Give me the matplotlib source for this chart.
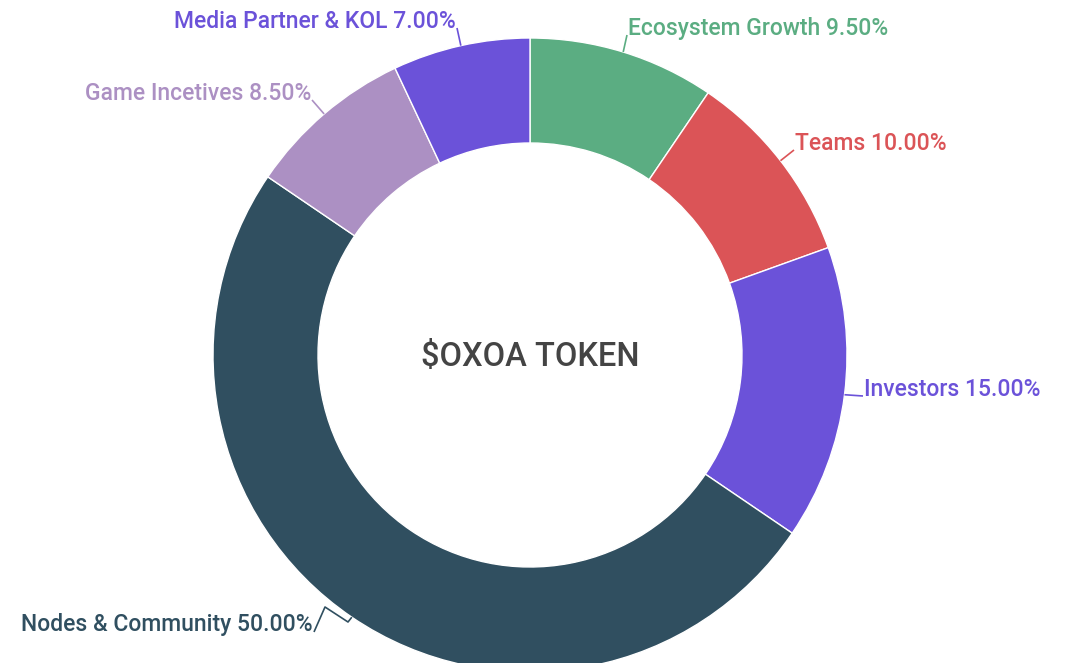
import numpy as np
import matplotlib
matplotlib.use("Agg")
import matplotlib.pyplot as plt

plt.rcParams["font.family"] = ["Roboto", "DejaVu Sans"]

labels = ["Ecosystem Growth", "Teams", "Investors", "Nodes & Community",
          "Game Incetives", "Media Partner & KOL"]
shares = [9.5, 10.0, 15.0, 50.0, 8.5, 7.0]
colors = ["#5bad82", "#db5457", "#6b52d9", "#304f60", "#ac90c3", "#6b52d9"]
text_colors = ["#5bad82", "#db5457", "#6b52d9", "#304f60", "#ac90c3", "#6b52d9"]

# text anchor (pixel coords, y from top), alignment, elbow points of leader
label_pos = [(628, 28, "left"), (795, 143, "left"), (864, 389, "left"),
             (313, 625, "right"), (311, 93, "right"), (456, 21, "right")]
elbows = [[], [], [], [(348, 622), (325, 607)], [], []]

W, H = 1080, 663
cx, cy = 530, 355
r_out, r_in = 317, 212

fig = plt.figure(figsize=(W / 100, H / 100), dpi=100)
ax = fig.add_axes([0, 0, 1, 1])

wedges, _ = ax.pie(shares, colors=colors, startangle=90, counterclock=False,
                   center=(cx, H - cy), radius=r_out,
                   wedgeprops=dict(width=r_out - r_in, edgecolor="white", linewidth=1))
ax.set_xlim(0, W)
ax.set_ylim(0, H)
ax.set_aspect("equal")
ax.axis("off")

for w, lab, val, tc, (tx, ty, ha), el in zip(wedges, labels, shares, text_colors,
                                              label_pos, elbows):
    mid = np.deg2rad((w.theta1 + w.theta2) / 2)
    ex = cx + r_out * np.cos(mid)
    ey = (H - cy) + r_out * np.sin(mid)
    if ha == "left":
        end = (tx - 1, H - ty - 7)
    else:
        end = (tx + 1, H - ty - 7)
    pts = [(ex, ey)] + [(x, H - y) for x, y in el] + [end]
    xs, ys = zip(*pts)
    ax.plot(xs, ys, color=tc, lw=1.2, solid_capstyle="butt")
    ax.text(tx, H - ty, f"{lab} {val:.2f}%", color=tc, fontsize=16.5,
            fontweight="medium", ha=ha, va="center")

ax.text(cx, H - cy - 2, "$OXOA TOKEN", color="#444444", fontsize=23.5,
        fontweight="medium", ha="center", va="center")

fig.savefig("out.png", dpi=100)
